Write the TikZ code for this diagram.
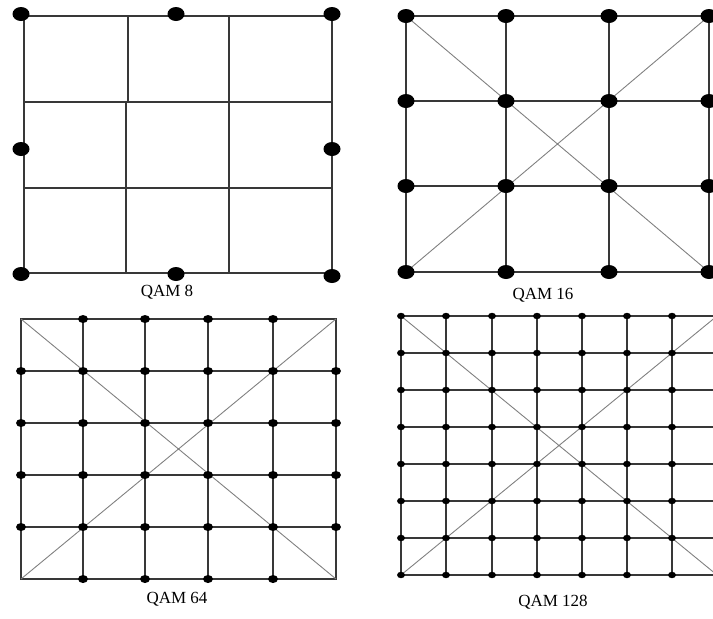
\documentclass[tikz,border=0pt]{standalone}
\usepackage{fontspec}
\setmainfont{Liberation Serif}

\begin{document}
\begin{tikzpicture}[
  x=1pt,y=-1pt,
  gridline/.style={line width=1.2pt,draw=black!78},
  diagline/.style={line width=0.9pt,draw=black!50},
  qamlabel/.style={font=\fontsize{17}{17}\selectfont,inner sep=0pt}
]
\useasboundingbox (0,0) rectangle (713,619);

% QAM 8
\draw[gridline] (24,16) rectangle (332,273);
\draw[gridline] (24,102) -- (332,102) (24,188) -- (332,188);
\draw[gridline] (128,16) -- (128,102) (126,102) -- (126,273) (229,16) -- (229,273);
\foreach \x/\y in {21/14,176/14,332/14,21/149,332/149,21/274,176/274,332/276}
  \fill (\x,\y) ellipse [x radius=8.5pt,y radius=7pt];
\node[qamlabel] (qam8) at (167,292) {QAM 8};

% QAM 16
\draw[gridline] (406,16) rectangle (709,272);
\foreach \y in {101,186} \draw[gridline] (406,\y) -- (709,\y);
\foreach \x in {506,609} \draw[gridline] (\x,16) -- (\x,272);
\draw[diagline] (406,16) -- (709,272) (406,272) -- (709,16);
\foreach \x in {406,506,609,709}
  \foreach \y in {16,101,186,272}
    \fill (\x,\y) ellipse [x radius=8.5pt,y radius=7pt];
\node[qamlabel] (qam16) at (543,295) {QAM 16};

% QAM 64
\draw[gridline] (21,319) rectangle (336,579);
\foreach \y in {371,423,475,527} \draw[gridline] (21,\y) -- (336,\y);
\foreach \x in {83,145,208,273} \draw[gridline] (\x,319) -- (\x,579);
\draw[diagline] (21,319) -- (336,579) (21,579) -- (336,319);
\foreach \x in {83,145,208,273}
  \foreach \y in {319,579}
    \fill (\x,\y) ellipse [x radius=5pt,y radius=4pt];
\foreach \x in {21,83,145,208,273,336}
  \foreach \y in {371,423,475,527}
    \fill (\x,\y) ellipse [x radius=5pt,y radius=4pt];
\node[qamlabel] (qam64) at (177,599) {QAM 64};

% QAM 128
\foreach \y in {316,353,390,427,464,501,538,575} \draw[gridline] (401,\y) -- (717,\y);
\foreach \x in {401,446,492,537,582,627,672,717} \draw[gridline] (\x,316) -- (\x,575);
\draw[diagline] (401,316) -- (717,575) (401,575) -- (717,316);
\foreach \x in {401,446,492,537,582,627,672,717}
  \foreach \y in {316,353,390,427,464,501,538,575}
    \fill (\x,\y) ellipse [x radius=4pt,y radius=3.2pt];
\node[qamlabel] (qam128) at (553,602) {QAM 128};
\end{tikzpicture}
\end{document}
